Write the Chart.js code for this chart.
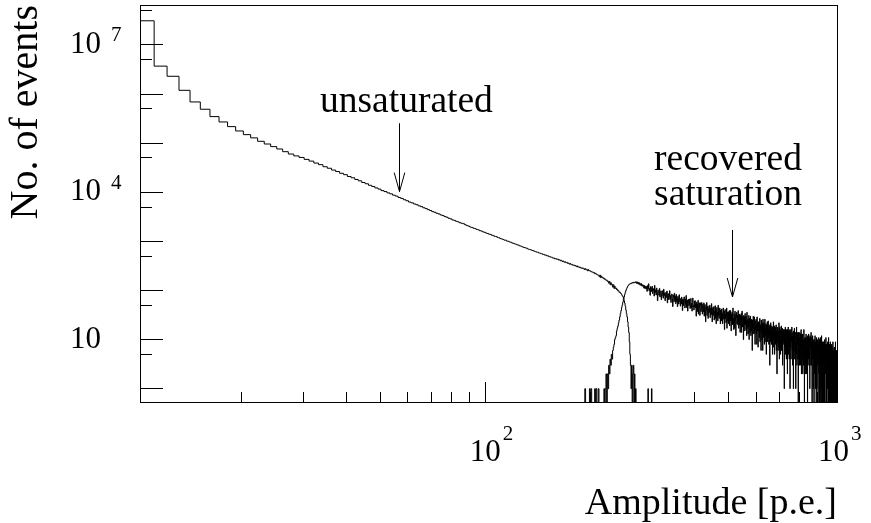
<!DOCTYPE html>
<html><head><meta charset="utf-8">
<script src="https://cdn.jsdelivr.net/npm/chart.js@4.4.1/dist/chart.umd.min.js"></script>
<style>html,body{margin:0;padding:0;background:#fff;}canvas{display:block;}</style>
</head><body>
<canvas id="c" width="871" height="523"></canvas>
<script>
// ---------------- data (bin width 1 p.e., counts per bin) ----------------
const X_MIN = 10.2, X_MAX = 1024;
const Y_MIN = 0.536, Y_MAX = 6.5e7;
const BIN_WIDTH = 1;

const unsaturatedStart = 10.2;
const unsaturated = [
31000000,3700000,2300000,1190000,690000,490000,347000,270000,217000,177000,
149000,128000,109000,96000,85000,76000,67000,60000,55000,51200,
46700,43100,39300,36500,33100,30800,28300,26400,24300,22800,
20900,19700,18200,17100,15800,14900,13850,13120,12250,11600,
10800,10330,9710,9280,8720,8330,7830,7480,7040,6720,
6320,6090,5780,5570,5280,5090,4830,4650,4420,4260,
4030,3910,3735,3620,3455,3350,3195,3100,2955,2870,
2735,2672,2560,2500,2395,2338,2290,2187,2096,2045,
1960,1922,1851,1816,1748,1715,1651,1619,1560,1530,
1480,1449,1402,1385,1330,1306,1260,1251,1198,1181,
1140,1118,1096,1058,1055,1009,1004,972,958,921,
915,887,876,849,839,811,801,778,762,749,
735,726,701,688,677,669,651,645,628,618,
603,601,580,578,562,560,540,543,521,526,
505,508,486,490,474,471,455,459,440,446,
431,436,416,421,402,411,389,397,377,384,
368,374,356,363,344,352,336,340,326,331,
319,323,306,316,300,305,292,297,284,289,
281,284,268,279,266,270,252,268,251,255,
246,244,236,238,229,231,218,224,214,212,
206,205,191,206,183,197,181,185,174,177,
168,170,160,162,152,154,140,153,131,144,
130,133,117,131,110,122,110,112,104,106,
98,99,92,93,88,86,82,78,75,69,
62,55,48,40,34,29,23,18,14,9,
5,3,1,3,0,2,3,0,2,0,
1,0,0,0,0,0,0,0,0,0,
0,0,0,0,0,0,0,0,0,0,
0,0,0,1,0,0,0,0,0,0,
1,0
];

const recoveredStart = 190.2;
const recovered = [
0,0,0,1,0,0,0,0,0,1,
0,1,0,0,0,0,1,0,1,0,
0,1,0,0,0,0,0,0,0,1,
0,1,2,0,2,1,3,2,4,3,
5,4,6,7,8,10,11,12,15,17,
19,22,25,29,34,39,45,51,58,66,
74,83,92,100,108,115,121,127,131,134,
137,140,138,142,145,141,147,143,146,150,
144,150,139,149,137,146,133,143,128,136,
138,124,131,122,128,112,126,110,121,108,
121,96,126,109,137,99,110,80,120,111,
95,121,87,100,109,77,127,91,103,81,
112,91,62,102,93,80,110,74,92,98,
65,87,99,78,70,106,79,89,62,86,
92,72,97,56,80,86,65,75,99,66,
79,57,77,85,68,47,81,72,59,88,
65,76,54,83,60,69,47,76,69,53,
82,60,62,48,69,53,73,63,39,67,
49,64,74,55,44,67,52,79,45,58,
64,38,58,66,49,67,52,43,59,69,
44,55,38,57,70,46,50,40,61,47,
62,44,53,30,58,45,53,37,63,33,
48,56,43,31,56,50,37,44,57,39,
33,52,45,37,56,30,47,52,39,23,
47,39,57,31,42,48,27,43,35,49,
36,50,28,39,44,32,54,36,23,42,
45,31,40,47,25,38,33,49,27,41,
21,38,45,29,36,24,50,31,39,27,
38,44,30,21,40,32,24,42,30,34,
21,36,44,26,29,38,16,32,41,27,
33,22,30,44,17,36,32,24,37,21,
35,27,39,19,34,24,39,30,15,33,
25,36,20,31,44,21,27,16,33,29,
17,38,30,24,12,34,28,36,21,31,
28,20,39,24,17,31,20,33,28,14,
31,25,19,34,14,27,38,21,18,29,
24,10,31,25,20,29,15,34,24,20,
30,16,25,12,36,17,23,26,13,24,
18,31,10,23,27,18,14,30,20,12,
25,15,26,20,6,25,17,22,30,16,
13,21,29,14,18,8,24,21,16,26,
13,20,8,29,21,15,23,7,17,23,
15,22,11,19,27,9,17,20,14,6,
25,14,19,10,22,16,6,26,14,19,
11,22,16,8,20,26,9,17,12,21,
17,5,20,15,10,23,13,9,18,24,
11,17,8,20,16,12,3,19,17,9,
22,12,17,8,14,19,8,15,5,18,
11,7,23,13,10,18,19,5,15,13,
18,8,14,10,20,6,12,15,2,18,
9,14,17,6,15,10,7,22,14,4,
15,18,9,11,5,16,13,6,19,11,
6,14,9,17,3,13,16,9,11,16,
8,13,1,14,16,7,10,18,5,12,
15,8,4,16,10,5,13,2,16,12,
8,18,5,12,10,15,4,13,7,16,
1,10,13,7,16,4,12,9,9,18,
11,6,12,3,14,7,12,1,15,9,
12,6,17,7,4,11,14,4,9,1,
14,10,5,18,6,3,10,11,8,14,
4,11,0,9,14,6,11,8,3,9,
14,6,8,3,13,5,10,16,6,2,
10,13,4,8,7,13,2,10,5,8,
3,10,16,5,8,0,10,7,11,3,
11,7,2,8,13,5,7,2,10,11,
5,7,0,12,7,10,4,9,13,5,
3,9,11,4,7,1,12,9,7,11,
8,3,14,6,9,3,8,11,0,8,
4,12,6,9,1,7,9,4,10,0,
7,4,10,2,6,12,2,7,1,9,
6,9,0,8,11,4,1,6,9,4,
10,3,8,0,8,6,5,11,2,6,
3,10,0,7,5,10,0,7,11,3,
6,1,8,3,12,0,4,8,0,9,
5,8,0,9,3,6,9,0,6,5,
8,0,5,10,3,0,6,2,8,5,
3,11,4,6,0,8,0,4,8,3,
6,1,9,3,4,0,8,1,11,0,
5,8,0,6,0,8,5,1,5,9,
0,5,1,8,0,5,6,0,8,3,
6,0,7,3,4,0,9,1,4,0,
6,1,0,4,7,0,3,6,0,7,
0,4,3,9,0,4,0,6,1,4,
0,6,0,3
];

const xMajorTicks = [100, 1000];
const xMinorTicks = [20, 30, 40, 50, 60, 70, 80, 90, 200, 300, 400, 500, 600, 700, 800, 900];
const yMajorTicks = [1, 10, 100, 1e3, 1e4, 1e5, 1e6, 1e7];
const yMinorTicks = [5, 50, 500, 5e3, 5e4, 5e5, 5e6, 5e7];
const xTickLabels = [[100, '10', '2'], [1000, '10', '3']];
const yTickLabels = [[10, '10', ''], [1e4, '10', '4'], [1e7, '10', '7']];

const noteTexts = [
  {text: 'unsaturated', x: 59.4, y: 4.37e5},
  {text: 'recovered', x: 498, y: 2.84e4},
  {text: 'saturation', x: 498, y: 5.5e3}
];
const noteArrows = [
  {x: 56.5, from: 2.54e5, to: 1.03e4},
  {x: 512, from: 1705, to: 73.7}
];

// ---------------- styling constants ----------------
const FONT = 'Liberation Serif';
const TICK_SIZE = 31, SUP_SIZE = 21, TITLE_SIZE = 40, XTITLE_SIZE = 38, NOTE_SIZE = 37.5;
const Y_TICK_LEN = 23, Y_MINOR_LEN = 12, Y_PAD = 62;
const X_TICK_LEN = 20, X_MINOR_LEN = 10, X_PAD = 52;
const ZERO_FLOOR = 1e-3; // empty bins drawn below the axis on log scale

function histPoints(start, counts) {
  const pts = counts.map((c, i) => ({x: start + i * BIN_WIDTH, y: c > 0 ? c : ZERO_FLOOR}));
  const last = counts[counts.length - 1];
  pts.push({x: start + counts.length * BIN_WIDTH, y: last > 0 ? last : ZERO_FLOOR});
  return pts;
}
function setTicks(values) { return scale => { scale.ticks = values.map(v => ({value: v})); }; }
function findLabel(list, v) { const e = list.find(l => Math.abs(l[0] - v) / l[0] < 1e-6); return e || null; }
function fixSize(prop, value) {
  return s => {
    s[prop] = value;
    s.paddingTop = 0; s.paddingBottom = 0; s.paddingLeft = 0; s.paddingRight = 0;
  };
}

const superscripts = {
  id: 'superscripts',
  afterDraw(chart) {
    const ctx = chart.ctx, xs = chart.scales.x, ys = chart.scales.y;
    ctx.save();
    ctx.fillStyle = '#000';
    ctx.textBaseline = 'alphabetic';
    ctx.textAlign = 'left';
    const tickFont = TICK_SIZE + 'px "' + FONT + '"';
    const supFont = SUP_SIZE + 'px "' + FONT + '"';
    const labelMid = xs.top - X_TICK_LEN + X_PAD + TICK_SIZE * 1.2 / 2;
    for (const [v, base, sup] of xTickLabels) {
      if (!sup) continue;
      const px = xs.getPixelForValue(v);
      ctx.font = tickFont;
      const w = ctx.measureText(base).width;
      ctx.font = supFont;
      ctx.fillText(sup, px + w / 2 + 2, labelMid - 12.5);
    }
    const labelRight = ys.right + Y_TICK_LEN - Y_PAD;
    for (const [v, base, sup] of yTickLabels) {
      if (!sup) continue;
      const py = ys.getPixelForValue(v);
      ctx.font = supFont;
      ctx.fillText(sup, labelRight + 10, py - 3.5);
    }
    ctx.restore();
  }
};

const notes = {
  id: 'notes',
  afterDraw(chart) {
    const ctx = chart.ctx, xs = chart.scales.x, ys = chart.scales.y;
    ctx.save();
    ctx.fillStyle = '#000';
    ctx.strokeStyle = '#000';
    ctx.lineWidth = 1;
    ctx.font = NOTE_SIZE + 'px "' + FONT + '"';
    ctx.textAlign = 'center';
    ctx.textBaseline = 'alphabetic';
    for (const t of noteTexts) ctx.fillText(t.text, xs.getPixelForValue(t.x), ys.getPixelForValue(t.y));
    for (const a of noteArrows) {
      const px = Math.round(xs.getPixelForValue(a.x)) + 0.5;
      const y0 = ys.getPixelForValue(a.from), y1 = ys.getPixelForValue(a.to);
      ctx.beginPath();
      ctx.moveTo(px, y0); ctx.lineTo(px, y1);
      ctx.moveTo(px - 5.3, y1 - 19); ctx.lineTo(px, y1); ctx.lineTo(px + 5.3, y1 - 19);
      ctx.stroke();
    }
    ctx.restore();
  }
};

const black = '#000';
new Chart(document.getElementById('c'), {
  type: 'line',
  data: {
    datasets: [
      {label: 'unsaturated', data: histPoints(unsaturatedStart, unsaturated)},
      {label: 'recovered saturation', data: histPoints(recoveredStart, recovered)}
    ].map(d => Object.assign(d, {
      borderColor: black, borderWidth: 1, pointRadius: 0, fill: false,
      stepped: true, clip: 0, xAxisID: 'x', yAxisID: 'y'
    }))
  },
  options: {
    responsive: false, animation: false, devicePixelRatio: 1, parsing: false,
    layout: {padding: 0},
    plugins: {legend: {display: false}, tooltip: {enabled: false}},
    events: [],
    scales: {
      x: {
        type: 'logarithmic', position: 'bottom', min: X_MIN, max: X_MAX, bounds: 'data', weight: 1,
        afterBuildTicks: setTicks(xMajorTicks),
        afterFit: fixSize('height', 121),
        ticks: {autoSkip: false, maxRotation: 0, minRotation: 0, padding: X_PAD, color: black,
          font: {family: FONT, size: TICK_SIZE},
          callback: v => { const e = findLabel(xTickLabels, v); return e ? e[1] : ''; }},
        grid: {drawOnChartArea: false, drawTicks: true, tickLength: -X_TICK_LEN, color: black, lineWidth: 1},
        border: {display: true, color: black, width: 1},
        title: {display: true, text: 'Amplitude [p.e.]', align: 'end', color: black,
          font: {family: FONT, size: XTITLE_SIZE, lineHeight: 1}, padding: {top: 0, bottom: 0}}
      },
      xMinor: {
        type: 'logarithmic', position: 'bottom', min: X_MIN, max: X_MAX, bounds: 'data', weight: 0,
        afterBuildTicks: setTicks(xMinorTicks),
        afterFit: fixSize('height', 0),
        ticks: {display: false, autoSkip: false},
        grid: {drawOnChartArea: false, drawTicks: true, tickLength: -X_MINOR_LEN, color: black, lineWidth: 1},
        border: {display: false}
      },
      y: {
        type: 'logarithmic', position: 'left', min: Y_MIN, max: Y_MAX, bounds: 'data', weight: 1,
        afterBuildTicks: setTicks(yMajorTicks),
        afterFit: fixSize('width', 140),
        ticks: {autoSkip: false, padding: Y_PAD, color: black,
          font: {family: FONT, size: TICK_SIZE},
          callback: v => { const e = findLabel(yTickLabels, v); return e ? e[1] : ''; }},
        grid: {drawOnChartArea: false, drawTicks: true, tickLength: -Y_TICK_LEN, color: black, lineWidth: 1},
        border: {display: true, color: black, width: 1},
        title: {display: true, text: 'No. of events', align: 'end', color: black,
          font: {family: FONT, size: TITLE_SIZE, lineHeight: 1}, padding: {top: 6, bottom: 0}}
      },
      yMinor: {
        type: 'logarithmic', position: 'left', min: Y_MIN, max: Y_MAX, bounds: 'data', weight: 0,
        afterBuildTicks: setTicks(yMinorTicks),
        afterFit: fixSize('width', 0),
        ticks: {display: false, autoSkip: false},
        grid: {drawOnChartArea: false, drawTicks: true, tickLength: -Y_MINOR_LEN, color: black, lineWidth: 1},
        border: {display: false}
      },
      xTop: {
        type: 'linear', position: 'top', afterFit: fixSize('height', 5),
        ticks: {display: false}, grid: {display: false},
        border: {display: true, color: black, width: 1}
      },
      yRight: {
        type: 'linear', position: 'right', afterFit: fixSize('width', 34),
        ticks: {display: false}, grid: {display: false},
        border: {display: true, color: black, width: 1}
      }
    }
  },
  plugins: [superscripts, notes]
});
</script>
</body></html>
